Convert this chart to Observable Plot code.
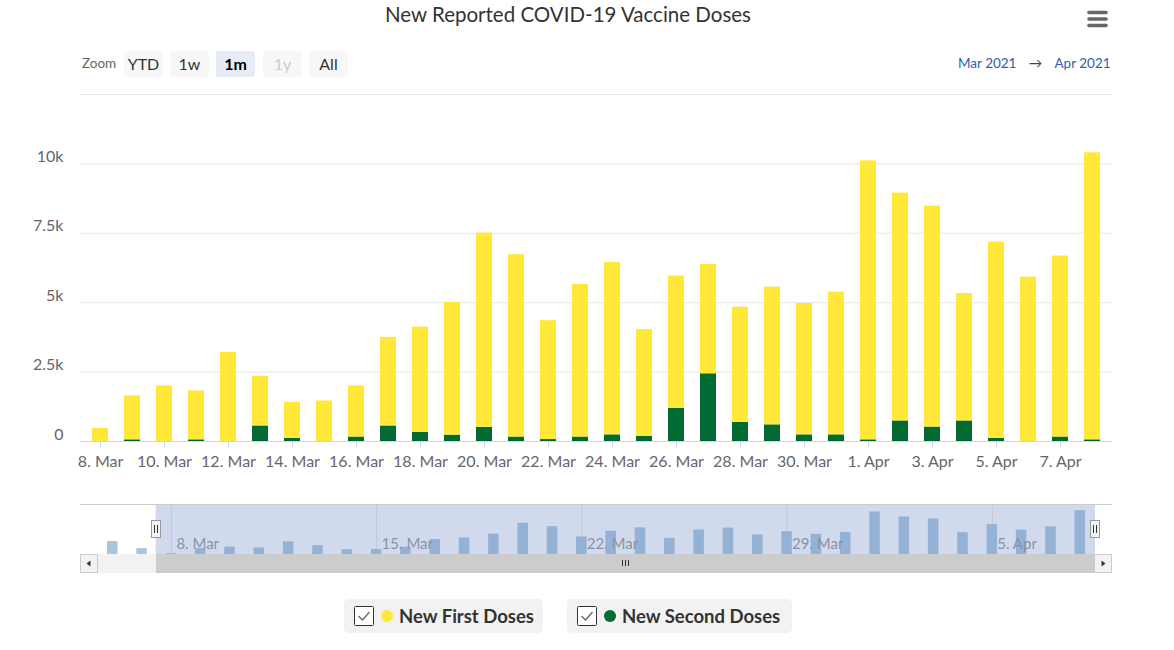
<!DOCTYPE html>
<html><head><meta charset="utf-8">
<script src="https://cdn.jsdelivr.net/npm/d3@7"></script>
<script src="https://cdn.jsdelivr.net/npm/@observablehq/plot@0.6"></script>
<style>
body{margin:0;background:#fff;font-family:Lato,"Open Sans",sans-serif;}
#wrap{position:relative;width:1174px;height:650px;overflow:hidden;background:#fff}
.abs{position:absolute}
.btn{position:absolute;top:51px;height:26px;width:39px;background:#f7f7f7;border-radius:2px;color:#333;font-size:16px;line-height:26px;text-align:center}
.leg{position:absolute;top:599px;height:34px;background:#f2f2f2;border-radius:5px;display:flex;align-items:center;font-size:18.5px;font-weight:700;color:#333}
</style></head><body><div id="wrap"></div>
<script>
// ---- data ----
const dates = ["2021-03-08","2021-03-09","2021-03-10","2021-03-11","2021-03-12","2021-03-13","2021-03-14","2021-03-15",
  "2021-03-16","2021-03-17","2021-03-18","2021-03-19","2021-03-20","2021-03-21","2021-03-22","2021-03-23",
  "2021-03-24","2021-03-25","2021-03-26","2021-03-27","2021-03-28","2021-03-29","2021-03-30","2021-03-31",
  "2021-04-01","2021-04-02","2021-04-03","2021-04-04","2021-04-05","2021-04-06","2021-04-07","2021-04-08"];
const firstDoses = [470,1580,2000,1760,3210,1790,1300,1460,1840,3190,3790,4780,7000,6570,4280,5500,
  6210,3840,4770,3940,4150,4960,4730,5140,10050,8210,7960,4590,7070,5920,6520,10340];
const secondDoses = [0,60,0,60,0,560,110,0,160,560,330,230,510,160,70,160,
  240,190,1190,2440,690,600,240,240,60,740,520,740,110,0,160,60];
// navigator-only earlier points (total doses)
const navEarlyDates = ["2021-03-06","2021-03-07"];
const navEarlyTotals = [3300,1650];
const seriesNames = ["New First Doses","New Second Doses"];
const seriesColors = ["#ffe838","#006b33"];
const yGridTicks = [0,2500,5000,7500,10000,12500];
const yLabelTicks = [0,2500,5000,7500,10000];
const yTickLabels = ["0","2.5k","5k","7.5k","10k"];
const xTickDates = dates.filter((d,i)=>i%2===0);
const navTickDates = ["2021-03-08","2021-03-15","2021-03-22","2021-03-29","2021-04-05"];
const monthNames = ["Jan","Feb","Mar","Apr","May","Jun","Jul","Aug","Sep","Oct","Nov","Dec"];
const zoomButtons = ["YTD","1w","1m","1y","All"];

const FONT = 'Lato, "Open Sans", sans-serif';
const DAY = 864e5;
const fmtDate = d => { const t = new Date(d); return `${t.getUTCDate()}. ${monthNames[t.getUTCMonth()]}`; };

const wrap = document.getElementById("wrap");
function add(html){ wrap.insertAdjacentHTML("beforeend", html); }

// ---- header ----
add(`<div class="abs" style="left:0;top:2px;width:1136px;text-align:center;font-size:20.5px;color:#333">New Reported COVID-19 Vaccine Doses</div>`);
add(`<svg class="abs" style="left:1085px;top:9px" width="26" height="20"><g stroke="#666" stroke-width="3.6" stroke-linecap="round"><line x1="4" y1="3.5" x2="21" y2="3.5"/><line x1="4" y1="10" x2="21" y2="10"/><line x1="4" y1="16.5" x2="21" y2="16.5"/></g></svg>`);
add(`<div class="abs" style="left:82px;top:55px;font-size:13.5px;color:#666">Zoom</div>`);
const btnLeft = [124,170,216,263,309];
zoomButtons.forEach((b,i)=>{
  let st = "";
  if (b==="1m") st = "background:#e6ebf5;font-weight:700;color:#000";
  if (b==="1y") st = "color:#cccccc";
  add(`<div class="btn" style="left:${btnLeft[i]}px;${st}">${b}</div>`);
});
add(`<div class="abs" style="left:958px;top:55px;font-size:13.5px;color:#335cad;white-space:nowrap">Mar 2021<span style="display:inline-block;width:38px;text-align:center;color:#444">&rarr;</span>Apr 2021</div>`);

// ---- main chart ----
const rows = dates.flatMap((d,i)=>[
  {date:d, series:"New Second Doses", value:secondDoses[i]},
  {date:d, series:"New First Doses", value:firstDoses[i]}
]);
const main = Plot.plot({
  width:1174, height:400, marginLeft:80, marginRight:62, marginTop:14, marginBottom:39,
  style:{fontFamily:FONT, fontSize:"16px", color:"#666", background:"transparent", overflow:"visible"},
  x:{type:"band", domain:dates, paddingInner:0.5, paddingOuter:0.26, align:0.5},
  y:{domain:[0,12500]},
  color:{domain:seriesNames, range:seriesColors},
  marks:[
    Plot.gridY(yGridTicks, {stroke:"#e6e6e6", strokeOpacity:1}),
    Plot.barY(rows, Plot.stackY({x:"date", y:"value", fill:"series", order:["New Second Doses","New First Doses"]})),
    Plot.ruleY([0], {stroke:"#ccd6eb"}),
    Plot.axisX({ticks:xTickDates, tickFormat:fmtDate, tickSize:6, tickPadding:8, stroke:"#ccd6eb", strokeOpacity:1, fill:"#666", fontSize:16, label:null}),
    Plot.axisY({ticks:yLabelTicks, tickFormat:v=>yTickLabels[yLabelTicks.indexOf(v)], tickSize:0, tickPadding:17, dy:-7, fill:"#666", fontSize:16, label:null})
  ]
});
main.style.position="absolute"; main.style.left="0px"; main.style.top="80px";
wrap.appendChild(main);

// ---- navigator ----
const navDates = navEarlyDates.concat(dates).map(d=>new Date(d));
const navTotals = navEarlyTotals.concat(dates.map((d,i)=>firstDoses[i]+secondDoses[i]));
const navRows = navDates.map((d,i)=>({d, v:navTotals[i]}));
const selStart = new Date(+new Date(dates[0]) - 0.52*DAY);
const selEnd = new Date(+new Date(dates[dates.length-1]) + 0.52*DAY);
const nav = Plot.plot({
  width:1174, height:80, marginLeft:80, marginRight:62, marginTop:5, marginBottom:26,
  style:{fontFamily:FONT, fontSize:"15px", background:"transparent", overflow:"visible"},
  x:{type:"utc", axis:null, domain:[new Date(+navDates[0]-1.1*DAY), new Date(+navDates[navDates.length-1]+1.1*DAY)]},
  y:{axis:null, domain:[300,11600]},
  marks:[
    Plot.ruleX(navTickDates, {x:d=>new Date(d), stroke:"#e6e6e6", strokeOpacity:1}),
    Plot.rectY(navRows, {x1:r=>new Date(+r.d-0.18*DAY), x2:r=>new Date(+r.d+0.18*DAY), y:"v", fill:"#a8c6de", clip:true}),
    Plot.text(navTickDates, {x:d=>new Date(d), text:fmtDate, frameAnchor:"bottom", lineAnchor:"bottom", textAnchor:"start", dx:5, dy:-6, fill:"#999", fontSize:15}),
    Plot.rect([{a:selStart, b:selEnd}], {x1:"a", x2:"b", fill:"rgb(102,133,194)", fillOpacity:0.3})
  ]
});
nav.style.position="absolute"; nav.style.left="0px"; nav.style.top="500px";
wrap.appendChild(nav);
const sx = nav.scale("x");
const hx1 = sx.apply(selStart), hx2 = sx.apply(selEnd);
add(`<div class="abs" style="left:80px;top:504px;width:1032px;height:1px;background:#cccccc"></div>`);
// scrollbar
add(`<div class="abs" style="left:80px;top:554px;width:1032px;height:19px;background:#f2f2f2"></div>`);
add(`<div class="abs" style="left:${hx1}px;top:554px;width:${hx2-hx1}px;height:19px;background:#cccccc"></div>`);
add(`<svg class="abs" style="left:${(hx1+hx2)/2-6}px;top:558px" width="12" height="10"><g stroke="#333" stroke-width="1"><line x1="3.5" y1="2" x2="3.5" y2="8"/><line x1="6.5" y1="2" x2="6.5" y2="8"/><line x1="9.5" y1="2" x2="9.5" y2="8"/></g></svg>`);
add(`<svg class="abs" style="left:80px;top:554px" width="18" height="19"><rect x="0.5" y="0.5" width="17" height="18" fill="#f2f2f2" stroke="#cccccc"/><path d="M10.5 6.5 L6.5 9.5 L10.5 12.5Z" fill="#333"/></svg>`);
add(`<svg class="abs" style="left:1094px;top:554px" width="18" height="19"><rect x="0.5" y="0.5" width="17" height="18" fill="#f2f2f2" stroke="#cccccc"/><path d="M7.5 6.5 L11.5 9.5 L7.5 12.5Z" fill="#333"/></svg>`);
// handles
[hx1,hx2].forEach(h=>{
  add(`<svg class="abs" style="left:${h-5}px;top:520px" width="11" height="19"><rect x="0.5" y="0.5" width="9" height="17" fill="#f2f2f2" stroke="#999"/><line x1="3.5" y1="5" x2="3.5" y2="13" stroke="#333"/><line x1="6.5" y1="5" x2="6.5" y2="13" stroke="#333"/></svg>`);
});

// ---- legend ----
const legLeft = [344,567], legWidth = [199,225];
const check = `<svg width="20" height="20" style="margin-left:10px"><rect x="0.5" y="0.5" width="19" height="19" fill="#fff" stroke="#333" rx="1"/><path d="M4.5 10 L8.5 14 L15.5 6" fill="none" stroke="#666" stroke-width="1.3"/></svg>`;
seriesNames.forEach((s,i)=>{
  add(`<div class="leg" style="left:${legLeft[i]}px;width:${legWidth[i]}px">${check}<span style="display:inline-block;width:12px;height:12px;border-radius:6px;background:${seriesColors[i]};margin-left:7px;margin-right:6px"></span><span>${s}</span></div>`);
});
</script></body></html>
